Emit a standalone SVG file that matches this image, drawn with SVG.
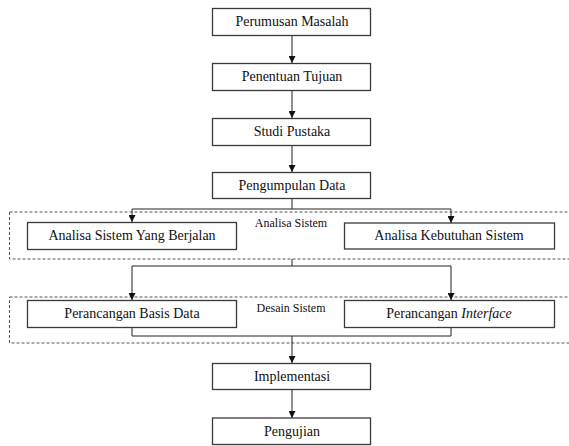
<svg xmlns="http://www.w3.org/2000/svg" width="569" height="446" viewBox="0 0 569 446" font-family="Liberation Serif, serif">
<style>
.box{fill:#fff;stroke:#3a3a3a;stroke-width:1.3}
.grp{fill:none;stroke:#555;stroke-width:1;stroke-dasharray:3,2}
text{font-family:"Liberation Serif",serif;fill:#111;text-anchor:middle}
.t{font-size:14px}
.g{font-size:12px}
.c{fill:none;stroke:#222;stroke-width:1}
</style>
<defs>
<marker id="ah" viewBox="0 0 8 8" refX="8" refY="4" markerWidth="7" markerHeight="7" markerUnits="userSpaceOnUse" orient="auto">
<path d="M0,0 L8,4 L0,8 Z" fill="#111"/>
</marker>
</defs>
<g id="group-analisa">
<rect class="grp" x="9.5" y="212" width="562" height="47"/>
<text class="g" x="291" y="227">Analisa Sistem</text>
</g>
<g id="group-desain">
<rect class="grp" x="9.5" y="297" width="562" height="46"/>
<text class="g" x="291" y="312">Desain Sistem</text>
</g>
<g id="connectors">
<path class="c" d="M292,36 V63" marker-end="url(#ah)"/>
<path class="c" d="M292,90 V118" marker-end="url(#ah)"/>
<path class="c" d="M292,145 V172" marker-end="url(#ah)"/>
<path class="c" d="M292,198 V209"/>
<path class="c" d="M132,209 H451"/>
<path class="c" d="M132,209 V222" marker-end="url(#ah)"/>
<path class="c" d="M451,209 V223" marker-end="url(#ah)"/>
<path class="c" d="M292,259 V266"/>
<path class="c" d="M132,266 H451"/>
<path class="c" d="M132,266 V300" marker-end="url(#ah)"/>
<path class="c" d="M451,266 V300" marker-end="url(#ah)"/>
<path class="c" d="M132,328 V336 H451 V328"/>
<path class="c" d="M292,336 V363" marker-end="url(#ah)"/>
<path class="c" d="M292,390 V418" marker-end="url(#ah)"/>
</g>
<g id="perumusan"><rect class="box" x="212.5" y="8.5" width="158" height="27"/><text class="t" x="292" y="26">Perumusan Masalah</text></g>
<g id="penentuan"><rect class="box" x="212.5" y="63.5" width="158" height="27"/><text class="t" x="292" y="81">Penentuan Tujuan</text></g>
<g id="studi"><rect class="box" x="212.5" y="118.5" width="158" height="27"/><text class="t" x="292" y="136">Studi Pustaka</text></g>
<g id="pengumpulan"><rect class="box" x="212.5" y="172.5" width="158" height="26"/><text class="t" x="292" y="190">Pengumpulan Data</text></g>
<g id="analisa-berjalan"><rect class="box" x="27.5" y="222.5" width="209" height="27"/><text class="t" x="132" y="240">Analisa Sistem Yang Berjalan</text></g>
<g id="analisa-kebutuhan"><rect class="box" x="344.5" y="223" width="210" height="26"/><text class="t" x="449" y="240">Analisa Kebutuhan Sistem</text></g>
<g id="basis-data"><rect class="box" x="27.5" y="300.5" width="209" height="27"/><text class="t" x="132" y="318">Perancangan Basis Data</text></g>
<g id="interface"><rect class="box" x="344.5" y="300.5" width="210" height="27"/><text class="t" x="449" y="318">Perancangan <tspan font-style="italic">Interface</tspan></text></g>
<g id="implementasi"><rect class="box" x="212.5" y="363.5" width="158" height="26"/><text class="t" x="292" y="381">Implementasi</text></g>
<g id="pengujian"><rect class="box" x="212.5" y="418" width="158" height="26.5"/><text class="t" x="292" y="436">Pengujian</text></g>
</svg>
